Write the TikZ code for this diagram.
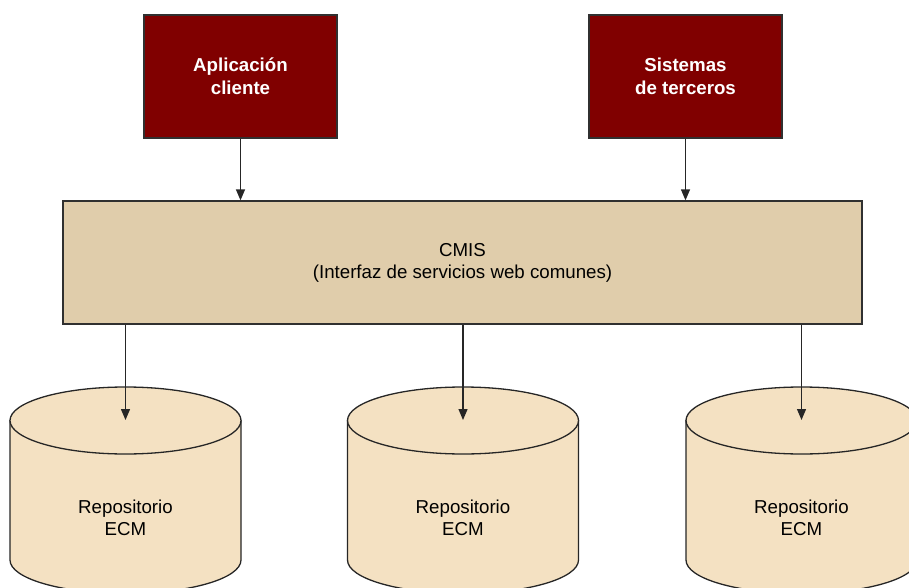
\documentclass[tikz,border=0pt]{standalone}
\usepackage{fontspec}
\setmainfont{Liberation Sans}
\usetikzlibrary{arrows.meta}

\definecolor{darkred}{HTML}{800000}
\definecolor{cmisfill}{HTML}{E0CDAB}
\definecolor{repofill}{HTML}{F4E1C2}
\definecolor{edge}{HTML}{303030}

\tikzset{
  client/.style={draw=edge, line width=1.3pt, fill=darkred, text=white,
    minimum width=193pt, minimum height=123pt, align=center,
    font=\fontsize{18.7}{23}\selectfont\bfseries},
  layer/.style={draw=edge, line width=1.3pt, fill=cmisfill,
    minimum width=799pt, minimum height=123pt, align=center,
    font=\fontsize{18.7}{22}\selectfont},
  repolabel/.style={align=center, font=\fontsize{18.7}{22}\selectfont},
  repo/.style={draw=black!85, line width=1.3pt, fill=repofill},
  link/.style={draw=black!85, line width=1.3pt, -{Triangle[length=11pt,width=9pt]}}
}

% Cylinder: top ellipse centre (#1,#2), half width #3, body down to #4
\newcommand{\repocyl}[4]{%
  \path[repo] (#1-#3,#2) -- (#1-#3,#4)
    arc[start angle=180, end angle=0, x radius=#3, y radius=33.5]
    -- (#1+#3,#2) -- cycle;
  \path[repo] (#1,#2) ellipse [x radius=#3, y radius=33.5];
}

\begin{document}
\begin{tikzpicture}[x=1pt, y=-1pt]
  \useasboundingbox (0,0) rectangle (909,588);
  \clip (0,0) rectangle (909,588);

  % client systems
  \node[client] (app) at (240.5,76.5) {Aplicación\\cliente};
  \node[client] (ext) at (685.5,76.5) {Sistemas\\de terceros};

  % common services layer
  \node[layer] (cmis) at (462.5,262.5) {CMIS\\(Interfaz de servicios web comunes)};

  % repositories
  \repocyl{125.5}{420.5}{115.5}{560}
  \repocyl{463}{420.5}{115.5}{560}
  \repocyl{801.5}{420.5}{115.5}{560}
  \coordinate (r1) at (125.5,420);
  \coordinate (r2) at (463,420);
  \coordinate (r3) at (801.5,420);
  \node[repolabel] (t1) at (125.5,518) {Repositorio\\ECM};
  \node[repolabel] (t2) at (463,518) {Repositorio\\ECM};
  \node[repolabel] (t3) at (801.5,518) {Repositorio\\ECM};

  % connectors
  \draw[link] (app.south) -- (app.south |- cmis.north);
  \draw[link] (ext.south) -- (ext.south |- cmis.north);
  \draw[link] (cmis.south -| r1) -- (r1);
  \draw[link] (cmis.south -| r2) -- (r2);
  \draw[link] (cmis.south -| r3) -- (r3);
\end{tikzpicture}
\end{document}
